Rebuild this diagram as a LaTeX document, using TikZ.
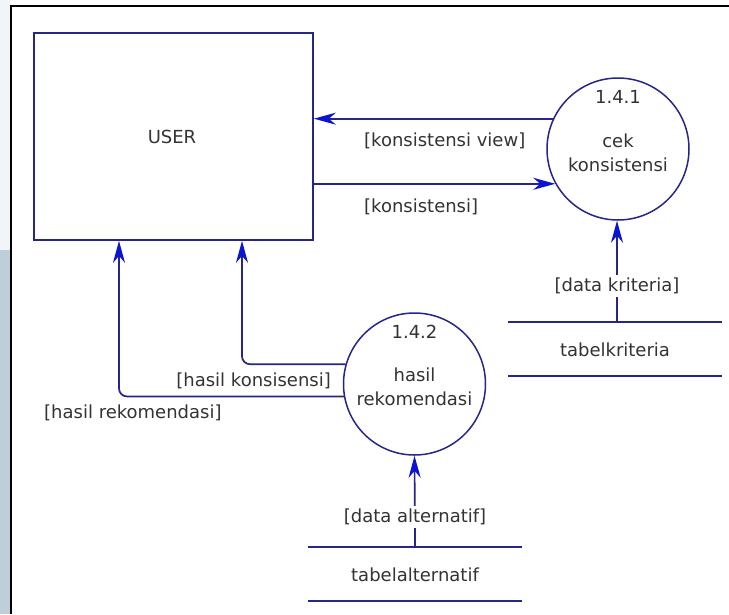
\documentclass[tikz,border=0pt]{standalone}
\usepackage{fontspec}
\setmainfont{DejaVu Sans}
\usetikzlibrary{arrows.meta}
\definecolor{navy}{HTML}{25258A}
\definecolor{tipblue}{HTML}{0A14D2}
\definecolor{inkgray}{HTML}{333333}
\definecolor{stripblue}{HTML}{BDCFD8}
\definecolor{stripfaint}{HTML}{F1F5F8}
\tikzset{
  lbl/.style={text=inkgray, font=\fontsize{18}{24}\selectfont, inner sep=1pt},
  entity/.style={draw=navy, line width=1.7pt, rectangle, minimum width=279pt, minimum height=207pt},
  process/.style={draw=navy, line width=1.5pt, circle, minimum size=142pt, inner sep=0pt},
  storeline/.style={draw=navy, line width=1.7pt},
  flow/.style={draw=navy, line width=1.7pt, rounded corners=8pt,
    -{Stealth[length=22pt,width=12pt,inset=7pt,color=tipblue]}},
  cut/.style={fill=white, inner sep=3pt}
}
\begin{document}
\begin{tikzpicture}[x=1pt,y=-1pt]
  % page and left margin strip
  \useasboundingbox (0,0) rectangle (729,614);
  \fill[white] (0,0) rectangle (729,614);
  \fill[stripfaint] (0,0) rectangle (11,250);
  \fill[stripblue] (0,250) rectangle (11,614);
  \draw[black, line width=1.5pt] (11,614) -- (11,6) -- (729,6);

  % external entity and processes
  \node[entity] (user) at (173.5,136.5) {};
  \node[lbl] (usertext) at (172,137) {USER};
  \node[process] (p1) at (618,149) {};
  \node[lbl] (p1num) at (618,97) {1.4.1};
  \node[lbl, align=center] (p1name) at (618,153) {cek\\konsistensi};
  \node[process] (p2) at (414.5,384) {};
  \node[lbl] (p2num) at (414.5,332) {1.4.2};
  \node[lbl, align=center] (p2name) at (414.5,387) {hasil\\rekomendasi};

  % data stores
  \coordinate (k1) at (508,322); \coordinate (k2) at (722,322);
  \coordinate (k3) at (508,376); \coordinate (k4) at (722,376);
  \draw[storeline] (k1) -- (k2);
  \draw[storeline] (k3) -- (k4);
  \node[lbl] (tk) at (615,350) {tabelkriteria};
  \coordinate (ktop) at (617,322);

  \coordinate (a1) at (308,547); \coordinate (a2) at (522,547);
  \coordinate (a3) at (308,601); \coordinate (a4) at (522,601);
  \draw[storeline] (a1) -- (a2);
  \draw[storeline] (a3) -- (a4);
  \node[lbl] (ta) at (415,575) {tabelalternatif};
  \coordinate (atop) at (415,547);

  % flows between user and 1.4.1
  \draw[flow] (p1.155) -- (user.east |- p1.155);
  \node[lbl, anchor=west] (fview) at (363,141) {[konsistensi view]};
  \draw[flow] (user.east |- p1.209) -- (p1.209);
  \node[lbl, anchor=west] (fkons) at (363,207) {[konsistensi]};

  % store reads
  \draw[flow] (ktop) -- (ktop |- p1.south);
  \node[lbl, cut] (fkrit) at (617,286) {[data kriteria]};
  \draw[flow] (atop) -- (p2.south);
  \node[lbl, cut] (falt) at (415,517) {[data alternatif]};

  % results back to the user
  \coordinate (bend1) at (242,365);
  \coordinate (bend2) at (119,397);
  \draw[flow] (p2.164) -- (bend1 |- p2.164) -- (bend1 |- user.south);
  \node[lbl, anchor=east] (fhk) at (332,381) {[hasil konsisensi]};
  \draw[flow] (p2.190) -- (bend2 |- p2.190) -- (bend2 |- user.south);
  \node[lbl, anchor=west] (fhr) at (43,413) {[hasil rekomendasi]};
\end{tikzpicture}
\end{document}
